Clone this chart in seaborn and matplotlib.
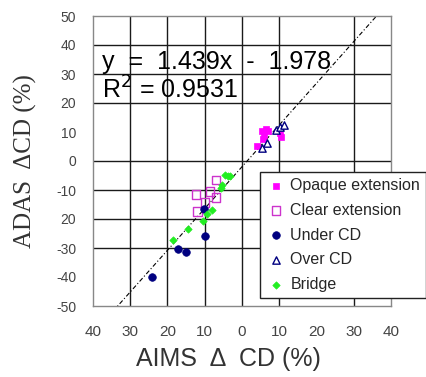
import matplotlib
matplotlib.use("Agg")
import matplotlib.pyplot as plt
import seaborn as sns
import numpy as np
import pandas as pd

# ---- data ----
opaque_x = [5.4, 6.5, 5.9, 10.2, 10.5, 5.6, 4.0, 7.0]
opaque_y = [10.3, 11.0, 8.9, 9.7, 8.3, 7.6, 5.2, 10.5]
clear_x = [-12.4, -8.6, -7.0, -9.9, -11.9, -7.0]
clear_y = [-11.5, -10.6, -6.6, -14.4, -17.5, -12.5]
under_x = [-10.2, -17.1, -15.0, -24.1, -9.9]
under_y = [-16.6, -30.3, -31.3, -40.1, -25.9]
over_x = [5.4, 6.7, 9.2, 10.2, 11.3]
over_y = [4.5, 6.2, 10.7, 11.7, 12.4]
bridge_x = [-4.6, -3.8, -3.2, -5.5, -5.6, -8.0, -9.5, -10.4, -14.4, -18.4]
bridge_y = [-4.8, -5.3, -5.0, -8.3, -9.3, -17.0, -18.3, -20.7, -23.6, -27.2]

slope, intercept = 1.439, -1.978
fit_x = [-40, 40]

x_ticks = [-40, -30, -20, -10, 0, 10, 20, 30, 40]
x_ticklabels = ["40", "30", "20", "10", "0", "10", "20", "30", "40"]
y_ticks = [-50, -40, -30, -20, -10, 0, 10, 20, 30, 40, 50]
y_ticklabels = ["-50", "-40", "-30", "20", "-10", "0", "10", "20", "30", "40", "50"]
grid_x = [-30, -20, -10, 0, 10, 30]
grid_y = [40, 30, 20, 0, -10, -20, -30]

sns.set_style("white")
plt.rcParams['font.family'] = ['Liberation Sans', 'DejaVu Sans']

fig = plt.figure(figsize=(4.27, 3.77), dpi=100)
ax = fig.add_axes([93/427, 1-306/377, 298/427, 290/377])

for gx in grid_x:
    ax.axvline(gx, color="#1a1a1a", lw=1.0, zorder=0)
for gy in grid_y:
    ax.axhline(gy, color="#1a1a1a", lw=1.0, zorder=0)

fit_y = [slope*v + intercept for v in fit_x]
sns.lineplot(x=fit_x, y=fit_y, ax=ax, color="black", lw=0.8,
             linestyle=(0, (4, 2, 1, 2)), zorder=1)

series = [
    (opaque_x, opaque_y, "Opaque extension", dict(marker="s", s=22, color="#ff00ff", edgecolor="#ff00ff", linewidth=0.5)),
    (clear_x, clear_y, "Clear extension", dict(marker="s", s=38, facecolor="none", edgecolor="#cc33cc", linewidth=1.0)),
    (under_x, under_y, "Under CD", dict(marker="o", s=30, color="#000080", edgecolor="#000080", linewidth=0.5)),
    (over_x, over_y, "Over CD", dict(marker="^", s=28, facecolor="white", edgecolor="#000080", linewidth=1.0)),
    (bridge_x, bridge_y, "Bridge", dict(marker="D", s=14, color="#22ee22", edgecolor="#22ee22", linewidth=0.5)),
]
for xs, ys, lab, kw in series:
    sns.scatterplot(x=xs, y=ys, ax=ax, label=lab, zorder=3, **kw)

ax.set_xlim(-40, 40)
ax.set_ylim(-50, 50)
ax.set_xticks(x_ticks)
ax.set_xticklabels(x_ticklabels)
ax.set_yticks(y_ticks)
ax.set_yticklabels(y_ticklabels)
ax.tick_params(axis="x", length=0, pad=14, labelsize=11, labelcolor="#444444")
ax.tick_params(axis="y", length=0, pad=12, labelsize=10, labelcolor="#444444")
for sp in ax.spines.values():
    sp.set_color("#888888")
    sp.set_linewidth(1.0)

ax.set_xlabel("AIMS  Δ  CD (%)", fontsize=18, color="#333333")
ax.xaxis.set_label_coords(0.453, -41/290, transform=ax.transAxes)
ax.set_ylabel("ADAS  ΔCD (%)", fontsize=18, color="#333333",
              family=["Liberation Serif", "DejaVu Serif"])
ax.yaxis.set_label_coords(-56/298, 0.5, transform=ax.transAxes)

ax.text(-37.5, 34.0, "y  =  1.439x  -  1.978", fontsize=18, color="black",
        va="center", ha="left", zorder=2)
ax.text(-37.5, 24.5, "R$^2$ = 0.9531", fontsize=18, color="black",
        va="center", ha="left", zorder=2)

leg = ax.legend(loc="upper left", bbox_to_anchor=(260/427, 1-172/377),
                bbox_transform=fig.transFigure, frameon=True, fancybox=False,
                fontsize=11.5, borderpad=0.4, labelspacing=0.6,
                handletextpad=0.3, handlelength=1.2, borderaxespad=0)
leg.get_frame().set_edgecolor("#222222")
leg.get_frame().set_linewidth(1.0)
leg.get_frame().set_alpha(1)

fig.savefig("out.png", dpi=100)
